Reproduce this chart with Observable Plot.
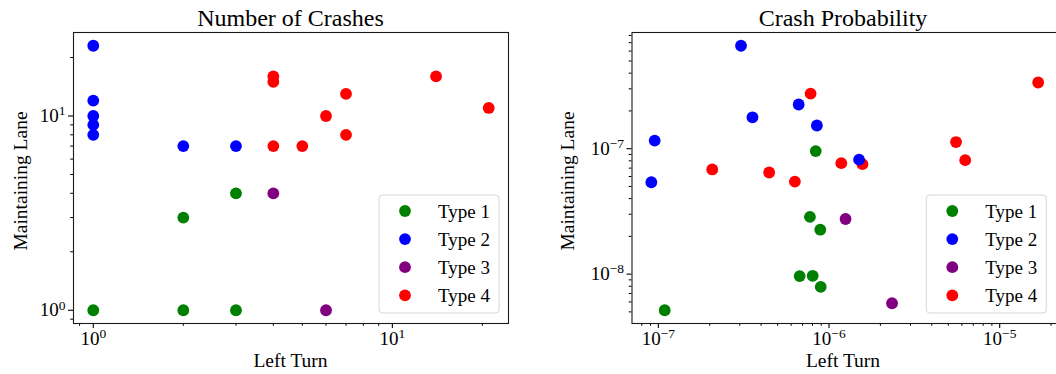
<!DOCTYPE html>
<html><head><meta charset="utf-8">
<script src="https://cdn.jsdelivr.net/npm/d3@7"></script>
<script src="https://cdn.jsdelivr.net/npm/@observablehq/plot@0.6"></script>
<style>
body{margin:0;background:#fff;}
#wrap{width:1056px;height:374px;overflow:hidden;display:flex;position:relative;background:#fff}
#wrap svg{flex:none;overflow:visible}
</style></head><body><div id="wrap"></div>
<script>
const FONT = '"Liberation Serif", "DejaVu Serif", serif';
const typeNames = ["Type 1", "Type 2", "Type 3", "Type 4"];
const typeColors = ["#008000", "#0000ff", "#800080", "#ff0000"];

// ---- Number of Crashes (left panel) ----
const crashT1X = [1, 2, 3, 2, 3];
const crashT1Y = [1, 1, 1, 3, 4];
const crashT2X = [1, 1, 1, 1, 1, 2, 3];
const crashT2Y = [23, 12, 10, 9, 8, 7, 7];
const crashT3X = [4, 6];
const crashT3Y = [4, 1];
const crashT4X = [4, 4, 4, 5, 6, 7, 7, 14, 21];
const crashT4Y = [16, 15, 7, 7, 10, 13, 8, 16, 11];
const crashXMajor = [1, 10];
const crashYMajor = [1, 10];

// ---- Crash Probability (right panel) ----
const probT1X = [8.36e-7, 7.73e-7, 8.89e-7, 6.73e-7, 8.02e-7, 8.94e-7, 1.09e-7];
const probT1Y = [9.57e-8, 2.86e-8, 2.26e-8, 9.64e-9, 9.7e-9, 7.91e-9, 5.15e-9];
const probT2X = [3.05e-7, 9.52e-8, 9.1e-8, 3.56e-7, 6.64e-7, 8.49e-7, 1.50e-6];
const probT2Y = [6.62e-7, 1.16e-7, 5.4e-8, 1.78e-7, 2.25e-7, 1.53e-7, 8.17e-8];
const probT3X = [1.25e-6, 2.34e-6];
const probT3Y = [2.75e-8, 5.86e-9];
const probT4X = [7.8e-7, 1.68e-5, 2.07e-7, 4.46e-7, 6.31e-7, 1.18e-6, 1.57e-6, 5.55e-6, 6.28e-6];
const probT4Y = [2.75e-7, 3.37e-7, 6.83e-8, 6.46e-8, 5.47e-8, 7.67e-8, 7.53e-8, 1.13e-7, 8.1e-8];
const probXMajor = [1e-7, 1e-6, 1e-5];
const probYMajor = [1e-8, 1e-7];

const xLabel = "Left Turn";
const yLabel = "Maintaining Lane";

function rows(xs, ys) {
  const out = [];
  // draw order: Type 4 first so later types sit on top
  [3, 0, 2, 1].forEach(i => xs[i].forEach((x, j) => out.push({x, y: ys[i][j], type: typeNames[i]})));
  return out;
}
function logDomain(vals) {
  const lo = Math.log10(d3.min(vals)), hi = Math.log10(d3.max(vals)), m = (hi - lo) * 0.05;
  return [10 ** (lo - m), 10 ** (hi + m)];
}
function minorTicks([a, b]) {
  const out = [];
  for (let e = Math.floor(Math.log10(a)); e <= Math.ceil(Math.log10(b)); e++)
    for (let k = 2; k <= 9; k++) { const v = k * 10 ** e; if (v >= a && v <= b) out.push(v); }
  return out;
}
const fmt = d => { const e = Math.round(Math.log10(d)); return "10^" + (e < 0 ? "\u2212" + (-e) : e); };

function panel(o) {
  const data = rows(o.xs, o.ys);
  const xd = logDomain(data.map(d => d.x)), yd = logDomain(data.map(d => d.y));
  const svg = Plot.plot({
    width: o.width, height: 374,
    marginLeft: o.ml, marginRight: o.mr, marginTop: 32, marginBottom: 51,
    style: {fontFamily: FONT, fontSize: "19px", color: "#000", background: "transparent"},
    x: {type: "log", domain: xd, label: null},
    y: {type: "log", domain: yd, label: null},
    color: {domain: typeNames, range: typeColors},
    marks: [
      Plot.axisX({ticks: minorTicks(xd), tickSize: 2.8, tickFormat: () => "", strokeWidth: 1, label: null}),
      Plot.axisY({ticks: minorTicks(yd), tickSize: 2.8, tickFormat: () => "", strokeWidth: 1, label: null}),
      Plot.axisX({ticks: o.xMajor, tickSize: 5, tickPadding: 3, tickFormat: fmt, strokeWidth: 1.1, label: null}),
      Plot.axisY({ticks: o.yMajor, tickSize: 5, tickPadding: 3, tickFormat: fmt, strokeWidth: 1.1, label: null}),
      Plot.dot(data, {x: "x", y: "y", fill: "type", r: 5.9, stroke: null}),
      Plot.frame({stroke: "#1a1a1a", strokeWidth: 1.1})
    ]
  });
  // superscript exponents in tick labels
  svg.querySelectorAll("text").forEach(t => {
    if (t.textContent.includes("^")) {
      const [base, exp] = t.textContent.split("^");
      t.textContent = base;
      const sp = document.createElementNS("http://www.w3.org/2000/svg", "tspan");
      sp.setAttribute("dy", "-0.5em");
      sp.setAttribute("font-size", "13.5px");
      sp.textContent = exp;
      t.appendChild(sp);
    }
  });
  const s = d3.select(svg);
  s.append("text").attr("x", o.titleX).attr("y", 26).attr("text-anchor", "middle")
    .attr("font-size", 24).attr("font-family", FONT).text(o.title);
  s.append("text").attr("x", o.titleX).attr("y", 367).attr("text-anchor", "middle")
    .attr("font-size", 19.5).attr("font-family", FONT).text(xLabel);
  s.append("text").attr("transform", `translate(${o.ylabX},181) rotate(-90)`).attr("text-anchor", "middle")
    .attr("font-size", 19.5).attr("font-family", FONT).text(yLabel);
  const lg = s.append("g");
  lg.append("rect").attr("x", o.legX).attr("y", 195).attr("width", 120).attr("height", 118)
    .attr("rx", 3.5).attr("fill", "#fff").attr("fill-opacity", 0.8).attr("stroke", "#d6d6d6").attr("stroke-width", 1);
  typeNames.forEach((n, i) => {
    const cy = 211 + i * 28.1;
    lg.append("circle").attr("cx", o.legX + 26).attr("cy", cy).attr("r", 5.9).attr("fill", typeColors[i]);
    lg.append("text").attr("x", o.legX + 59).attr("y", cy + 6.5).attr("font-size", 19)
      .attr("text-anchor", "start").attr("font-family", FONT).text(n);
  });
  return svg;
}

const wrap = document.getElementById("wrap");
wrap.appendChild(panel({
  title: "Number of Crashes", xs: [crashT1X, crashT2X, crashT3X, crashT4X], ys: [crashT1Y, crashT2Y, crashT3Y, crashT4Y],
  xMajor: crashXMajor, yMajor: crashYMajor, width: 528, ml: 73, mr: 20, titleX: 290.5, ylabX: 27, legX: 379
}));
wrap.appendChild(panel({
  title: "Crash Probability", xs: [probT1X, probT2X, probT3X, probT4X], ys: [probT1Y, probT2Y, probT3Y, probT4Y],
  xMajor: probXMajor, yMajor: probYMajor, width: 530, ml: 103.5, mr: 1, titleX: 315, ylabX: 45.5, legX: 398.3
}));
</script></body></html>
